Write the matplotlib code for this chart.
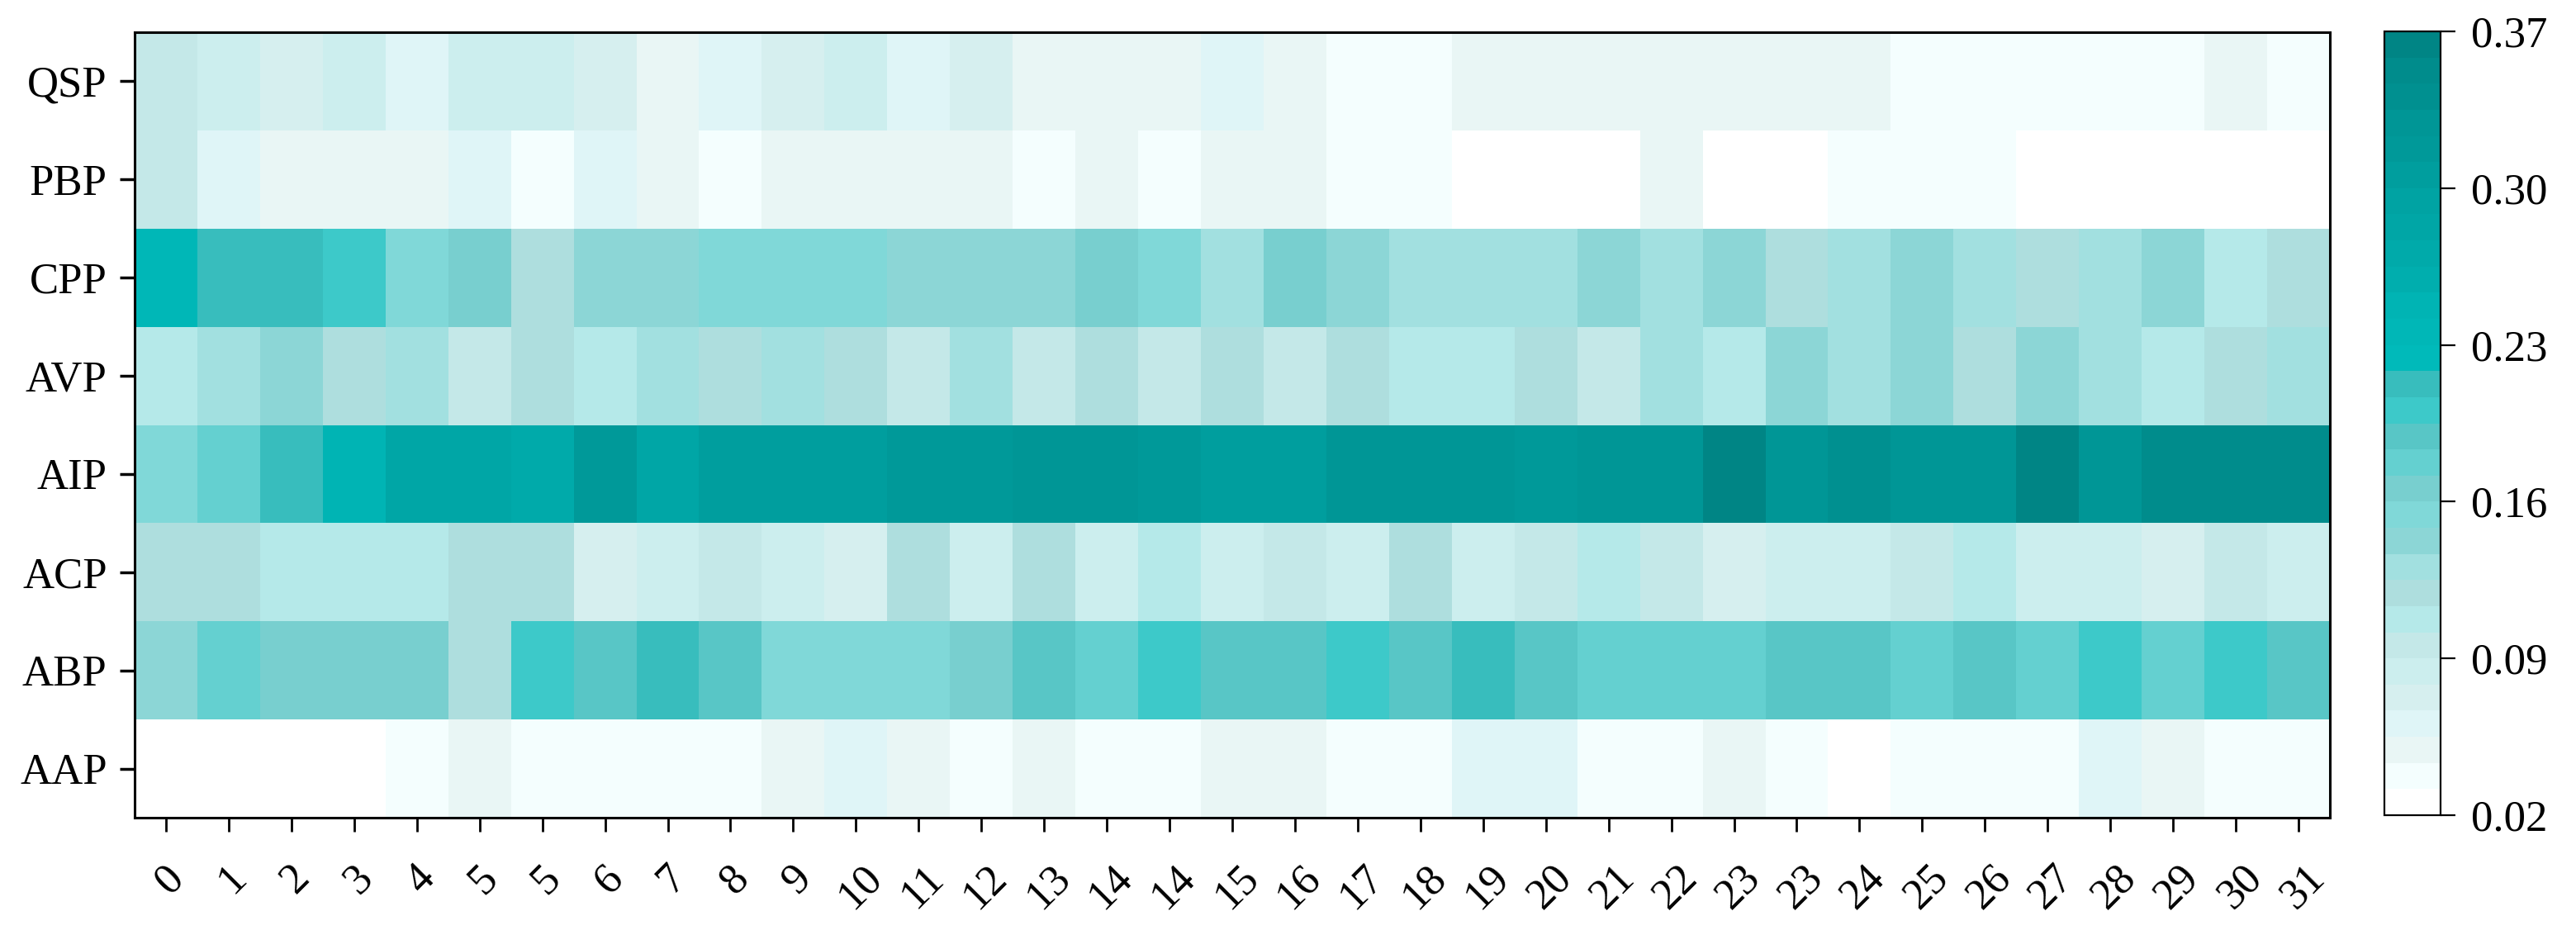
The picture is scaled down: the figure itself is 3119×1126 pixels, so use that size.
#!/usr/bin/env python3
" Peptide activity heatmap "
import numpy as np
import matplotlib
matplotlib.use('Agg')
import matplotlib.pyplot as plt
from matplotlib.colors import ListedColormap
from matplotlib.transforms import ScaledTranslation

plt.rcParams['font.family'] = ['Liberation Serif', 'DejaVu Serif']

rows = ['AAP', 'ABP', 'ACP', 'AIP', 'AVP', 'CPP', 'PBP', 'QSP']
cols = ['0', '1', '2', '3', '4', '5', '5', '6', '7', '8', '9', '10', '11',
        '12', '13', '14', '14', '15', '16', '17', '18', '19', '20', '21',
        '22', '23', '23', '24', '25', '26', '27', '28', '29', '30', '31']

qsp = [.096, .084, .072, .084, .061, .084, .084, .072, .049, .061, .072, .084,
       .061, .072, .049, .049, .049, .061, .049, .037, .037, .049, .049, .049,
       .049, .049, .049, .049, .037, .037, .037, .037, .037, .049, .037]
pbp = [.096, .061, .049, .049, .049, .061, .037, .061, .049, .037, .049, .049,
       .049, .049, .037, .049, .037, .049, .049, .037, .037, .026, .026, .026,
       .049, .026, .026, .037, .037, .037, .026, .026, .026, .026, .026]
cpp = [.236, .212, .212, .201, .154, .166, .119, .142, .142, .154, .154, .154,
       .142, .142, .142, .166, .154, .131, .166, .142, .131, .131, .131, .142,
       .131, .142, .119, .131, .142, .131, .119, .131, .142, .108, .119]
avp = [.108, .131, .142, .119, .131, .096, .119, .108, .131, .119, .131, .119,
       .096, .131, .096, .119, .096, .119, .096, .119, .108, .108, .119, .096,
       .131, .108, .142, .131, .142, .119, .142, .131, .108, .119, .131]
aip = [.154, .178, .212, .247, .282, .282, .271, .317, .282, .306, .306, .306,
       .317, .317, .329, .329, .317, .306, .306, .329, .329, .329, .317, .329,
       .329, .364, .329, .341, .329, .329, .364, .329, .352, .352, .352]
acp = [.119, .119, .108, .108, .108, .119, .119, .072, .084, .096, .084, .072,
       .119, .084, .119, .084, .108, .084, .096, .084, .119, .084, .096, .108,
       .096, .072, .084, .084, .096, .108, .084, .084, .072, .096, .084]
abp = [.142, .178, .166, .166, .166, .119, .201, .189, .212, .189, .154, .154,
       .154, .166, .189, .178, .201, .189, .189, .201, .189, .212, .189, .178,
       .178, .178, .189, .189, .178, .189, .178, .201, .178, .201, .189]
aap = [.026, .026, .026, .026, .037, .049, .037, .037, .037, .037, .049, .061,
       .049, .037, .049, .037, .037, .049, .049, .037, .037, .061, .061, .037,
       .037, .049, .037, .026, .037, .037, .037, .061, .049, .037, .037]

cbar_ticks = [0.02, 0.09, 0.16, 0.23, 0.30, 0.37]
cbar_labels = ['0.02', '0.09', '0.16', '0.23', '0.30', '0.37']
colors = ['#ffffff', '#f4fefe', '#e9f6f5', '#dff5f7', '#d6efef', '#cceeee',
          '#c4e8e8', '#b5e9e9', '#aedede', '#a2e0e0', '#8cd6d6', '#80d8d8',
          '#78cfcf', '#64d0d0', '#58c6c6', '#3dc9c9', '#38bdbd', '#00baba',
          '#00b7b7', '#00b4b4', '#00aeae', '#00aaaa', '#00a6a6', '#00a3a3',
          '#009e9e', '#009999', '#009696', '#009090', '#008c8c', '#008585']

data = np.array([aap, abp, acp, aip, avp, cpp, pbp, qsp])
W, H = 3119, 1126

fig = plt.figure(figsize=(W / 100, H / 100), dpi=100)
ax = fig.add_axes([163 / W, 1 - 990 / H, (2821 - 163) / W, (990 - 39) / H])
cax = fig.add_axes([2887 / W, 1 - 987 / H, (2955 - 2887) / W, (987 - 38) / H])

mesh = ax.pcolormesh(data, cmap=ListedColormap(colors), vmin=0.02, vmax=0.37)
ax.set_xticks(np.arange(len(cols)) + 0.5)
ax.set_xticklabels(cols, rotation=45, ha='center', fontsize=38)
ax.set_yticks(np.arange(len(rows)) + 0.5)
ax.set_yticklabels(rows, fontsize=38)
ax.tick_params(axis='x', length=12, width=2, pad=23)
ax.tick_params(axis='y', length=13, width=2.5, pad=11)
for s in ax.spines.values():
    s.set_linewidth(2.2)

# nudge the rotated labels a little to the right of their ticks
shift = ScaledTranslation(5 / 100, 0, fig.dpi_scale_trans)
for lab in ax.get_xticklabels():
    lab.set_transform(lab.get_transform() + shift)

cb = fig.colorbar(mesh, cax=cax)
cb.set_ticks(cbar_ticks)
cb.set_ticklabels(cbar_labels)
cb.ax.tick_params(length=13, width=1.6, labelsize=38, pad=14)
cb.outline.set_linewidth(1.6)

fig.savefig('out.png', dpi=100)
